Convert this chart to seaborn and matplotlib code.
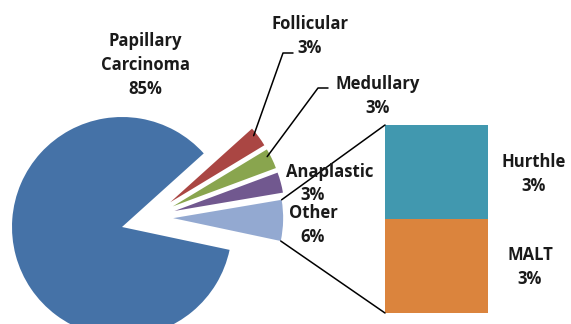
import matplotlib
matplotlib.use("Agg")
import matplotlib.pyplot as plt
import seaborn as sns
from matplotlib.patches import ConnectionPatch
import numpy as np

# ---- data ----
pie_labels = ["Other", "Anaplastic", "Medullary", "Follicular", "Papillary\nCarcinoma"]
pie_values = [6, 3, 3, 3, 85]
pie_colors = ["#93A9D1", "#71588F", "#89A54E", "#AA4643", "#4572A7"]
bar_labels = ["MALT", "Hurthle"]
bar_values = [3, 3]
bar_colors = ["#DB843D", "#4198AF"]

sns.set_theme(style="white")
plt.rcParams['font.family'] = ['Open Sans', 'DejaVu Sans']

W, H = 571, 324
fig = plt.figure(figsize=(W / 100, H / 100), dpi=100)
ax = fig.add_axes([0, 0, 1, 1])

start = -12
big, _ = ax.pie(pie_values, colors=pie_colors, startangle=start, counterclock=True,
                radius=1, center=(0, 0), wedgeprops=dict(linewidth=0))
for w in big[:4]:
    w.set_visible(False)
small, _ = ax.pie(pie_values, colors=pie_colors, startangle=start, counterclock=True,
                  radius=1, center=(0.25, 0.085),
                  explode=[0.215, 0.235, 0.235, 0.235, 0], wedgeprops=dict(linewidth=0))
small[4].set_visible(False)
ax.set_xlim(-122 / 110, (W - 122) / 110)
ax.set_ylim(-(H - 227) / 110, 227 / 110)
ax.set_aspect('equal')
ax.axis('off')


def px2data(px, py):
    return ax.transData.inverted().transform((px, H - py))


def arc_point(w, theta, frac=1.0):
    cx, cy = w.center
    t = np.deg2rad(theta)
    return cx + frac * w.r * np.cos(t), cy + frac * w.r * np.sin(t)


# ---- bar of pie ----
ax2 = fig.add_axes([385 / W, 11 / H, 103 / W, 188 / H])
sns.barplot(x=["Other"], y=[sum(bar_values)], color=bar_colors[1], width=1,
            saturation=1, linewidth=0, ax=ax2)
sns.barplot(x=["Other"], y=[bar_values[0]], color=bar_colors[0], width=1,
            saturation=1, linewidth=0, ax=ax2)
ax2.set_xlim(-0.5, 0.5)
ax2.set_ylim(0, sum(bar_values))
ax2.axis('off')

other = small[0]
for theta, ybar in [(other.theta2, sum(bar_values)), (other.theta1, 0)]:
    p = arc_point(other, theta)
    con = ConnectionPatch(xyA=p, coordsA=ax.transData, xyB=(-0.5, ybar),
                          coordsB=ax2.transData, color="black", lw=1.1)
    fig.add_artist(con)

# ---- leader lines ----
fol, med = small[3], small[2]
for w, elbow, end in [(fol, (283, 53), (293, 53)), (med, (318, 88), (328, 88))]:
    p0 = arc_point(w, (w.theta1 + w.theta2) / 2 + 2, 0.97)
    e = px2data(*elbow)
    f = px2data(*end)
    ax.plot([p0[0], e[0], f[0]], [p0[1], e[1], f[1]], color="black", lw=1.1)

# ---- labels ----
tk = dict(ha="center", va="center", fontsize=12, fontweight="bold",
          color="#1a1a1a", linespacing=1.4)


def lab(px, py, s):
    fig.text(px / W, 1 - py / H, s, **tk)


lab(145, 65, f"{pie_labels[4]}\n{pie_values[4]}%")
lab(310, 36, f"{pie_labels[3]}\n{pie_values[3]}%")
lab(378, 96, f"{pie_labels[2]}\n{pie_values[2]}%")
lab(330, 172, pie_labels[1])
lab(313, 195, f"{pie_values[1]}%")
lab(313, 225, f"{pie_labels[0]}\n{pie_values[0]}%")
lab(534, 174, f"{bar_labels[1]}\n{bar_values[1]}%")
lab(530, 267, f"{bar_labels[0]}\n{bar_values[0]}%")

fig.savefig("out.png", dpi=100)
